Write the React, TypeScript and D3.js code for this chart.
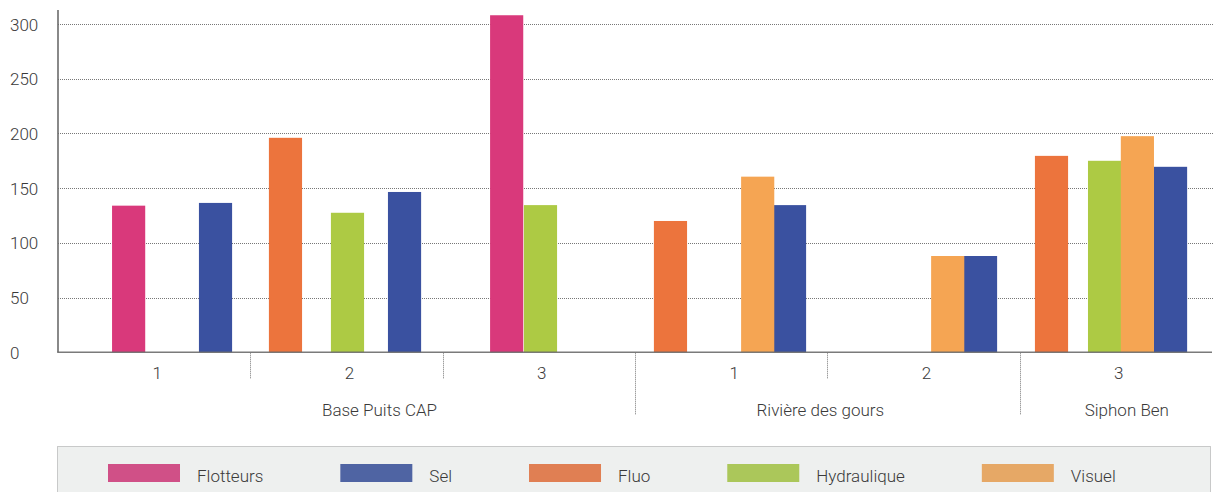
import * as d3 from "d3";
import React, { useEffect, useRef } from "react";

const seriesNames = ["Flotteurs", "Sel", "Fluo", "Hydraulique", "Visuel"];
const sites = ["Base Puits CAP", "Rivière des gours", "Siphon Ben"];
const runLabels = ["1", "2", "3", "1", "2", "3"];
const runSite = [0, 0, 0, 1, 1, 2];
const yTicks = [0, 50, 100, 150, 200, 250, 300];

const flotteurs = [134, null, 308, null, null, null];
const sel = [136.5, 146.5, null, 134.5, 88, 169.5];
const fluo = [null, 196, null, 120, null, 179.5];
const hydraulique = [null, 127.5, 134.5, null, null, 175];
const visuel = [null, null, null, 160.5, 88, 197.5];

const values = {
  Flotteurs: flotteurs,
  Sel: sel,
  Fluo: fluo,
  Hydraulique: hydraulique,
  Visuel: visuel,
};

// where each bar sits inside its run, counted in bar widths (the original layout is irregular)
const slots = {
  Flotteurs: [1.63, 0, 1.43, 0, 0, 0],
  Sel: [4.25, 4.15, 0, 4.16, 4.12, 4.05],
  Fluo: [0, 0.56, 0, 0.57, 0, 0.46],
  Hydraulique: [0, 2.43, 2.45, 0, 0, 2.06],
  Visuel: [0, 0, 0, 3.2, 3.13, 3.05],
};
// site label nudges, as in the original
const siteShift = [33, -7, 11];

const barColors = {
  Flotteurs: "#d9397b",
  Sel: "#3a51a0",
  Fluo: "#ec743d",
  Hydraulique: "#adca44",
  Visuel: "#f5a553",
};
const legendColors = {
  Flotteurs: "#d05087",
  Sel: "#4f64a3",
  Fluo: "#e07f53",
  Hydraulique: "#abc75a",
  Visuel: "#e6a866",
};

const width = 1219;
const height = 492;
const font = "Roboto, 'Open Sans', sans-serif";
const textColor = "#3a3a3a";

const Chart = () => {
  const ref = useRef(null);

  useEffect(() => {
    const svg = d3.select(ref.current);
    svg.selectAll("*").remove();

    const left = 58;
    const right = 1212;
    const x = d3
      .scaleBand()
      .domain(runLabels.map((_, i) => String(i)))
      .range([left, right])
      .padding(0);
    const bw = x.bandwidth();
    const slot = d3.scaleLinear().domain([0, 5.8]).range([0, bw]);
    const barW = slot(1);

    const y = d3.scaleLinear().domain([0, 300]).range([352.3, 24]);

    // grid
    svg
      .append("g")
      .selectAll("line")
      .data(yTicks.filter((t) => t > 0))
      .join("line")
      .attr("x1", left)
      .attr("x2", right + 1)
      .attr("y1", (d) => Math.round(y(d)) + 0.5)
      .attr("y2", (d) => Math.round(y(d)) + 0.5)
      .attr("stroke", "#777")
      .attr("stroke-width", 1)
      .attr("stroke-dasharray", "1 1");

    // y labels
    svg
      .append("g")
      .selectAll("text")
      .data(yTicks)
      .join("text")
      .attr("x", 10)
      .attr("y", (d) => y(d) + 6.5)
      .attr("font-family", font)
      .attr("font-weight", 300)
      .attr("font-size", 17)
      .attr("fill", textColor)
      .text((d) => d);

    // bars
    seriesNames.forEach((s) => {
      const bars = values[s]
        .map((v, i) => ({ v, i }))
        .filter((d) => d.v !== null);
      svg
        .append("g")
        .selectAll("rect")
        .data(bars)
        .join("rect")
        .attr("x", (d) => x(String(d.i)) + slot(slots[s][d.i]))
        .attr("y", (d) => y(d.v))
        .attr("width", barW)
        .attr("height", (d) => y(0) - y(d.v))
        .attr("fill", barColors[s]);
    });

    // axes
    svg
      .append("line")
      .attr("x1", left)
      .attr("x2", left)
      .attr("y1", 10)
      .attr("y2", y(0))
      .attr("stroke", "#6b6b6b")
      .attr("stroke-width", 1.6);
    svg
      .append("line")
      .attr("x1", left - 0.8)
      .attr("x2", right)
      .attr("y1", y(0))
      .attr("y2", y(0))
      .attr("stroke", "#6b6b6b")
      .attr("stroke-opacity", 0.9)
      .attr("stroke-width", 1.6);

    // separators between runs
    const seps = runLabels.slice(1).map((_, k) => ({
      pos: x(String(k + 1)),
      major: runSite[k + 1] !== runSite[k],
    }));
    svg
      .append("g")
      .selectAll("line")
      .data(seps)
      .join("line")
      .attr("x1", (d) => Math.round(d.pos) + 0.5)
      .attr("x2", (d) => Math.round(d.pos) + 0.5)
      .attr("y1", y(0) + 1)
      .attr("y2", (d) => (d.major ? 415 : 379))
      .attr("stroke", "#777")
      .attr("stroke-width", 1)
      .attr("stroke-dasharray", "1 1");

    // run labels
    svg
      .append("g")
      .selectAll("text")
      .data(runLabels)
      .join("text")
      .attr("x", (_, i) => x(String(i)) + bw / 2 + 3)
      .attr("y", 379)
      .attr("text-anchor", "middle")
      .attr("font-family", font)
      .attr("font-weight", 300)
      .attr("font-size", 17)
      .attr("fill", textColor)
      .text((d) => d);

    // site labels
    svg
      .append("g")
      .selectAll("text")
      .data(sites)
      .join("text")
      .attr("x", (_, si) => {
        const idx = runSite.map((r, i) => (r === si ? i : -1)).filter((i) => i >= 0);
        const a = x(String(idx[0]));
        const b = x(String(idx[idx.length - 1])) + bw;
        return (a + b) / 2 + siteShift[si];
      })
      .attr("y", 416)
      .attr("text-anchor", "middle")
      .attr("font-family", font)
      .attr("font-weight", 300)
      .attr("font-size", 17)
      .attr("fill", textColor)
      .text((d) => d);

    // legend
    svg
      .append("rect")
      .attr("x", 57.5)
      .attr("y", 446.5)
      .attr("width", 1153)
      .attr("height", 60)
      .attr("fill", "#eef0ef")
      .attr("stroke", "#9a9a9a")
      .attr("stroke-width", 1)
      .attr("stroke-dasharray", "1 1");

    let cx = 108;
    seriesNames.forEach((s) => {
      const g = svg.append("g");
      g.append("rect")
        .attr("x", cx)
        .attr("y", 464)
        .attr("width", 72)
        .attr("height", 18)
        .attr("fill", legendColors[s]);
      const t = g
        .append("text")
        .attr("x", cx + 89)
        .attr("y", 481.5)
        .attr("font-family", font)
        .attr("font-weight", 300)
        .attr("font-size", 17)
        .attr("fill", textColor)
        .text(s);
      const w = t.node().getComputedTextLength();
      cx += 89 + w + 77;
    });
  }, []);

  return (
    <svg
      ref={ref}
      width={width}
      height={height}
      style={{ position: "absolute", left: 0, top: 0, background: "#fff" }}
    />
  );
};

export default function App() {
  return <Chart />;
}
